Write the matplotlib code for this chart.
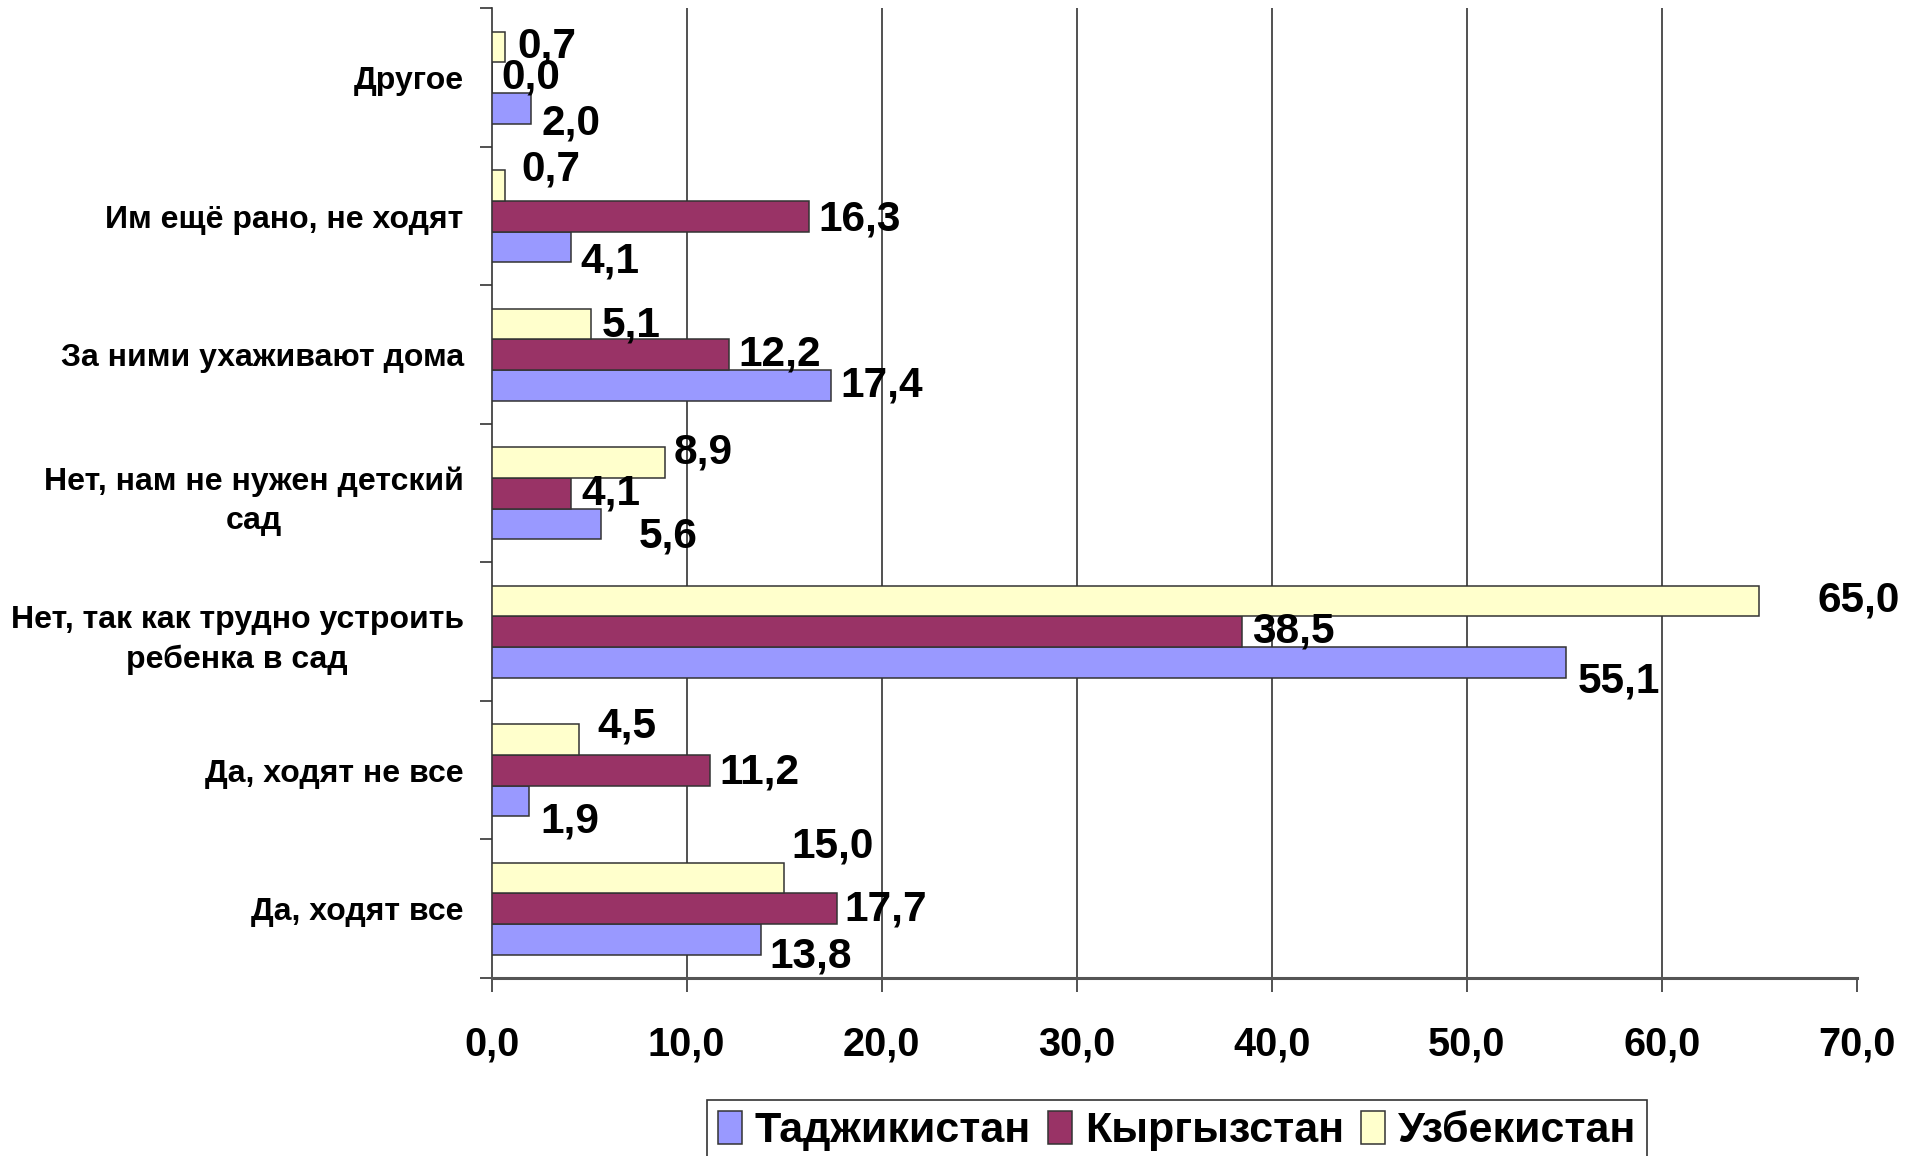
import matplotlib
matplotlib.use("Agg")
import matplotlib.pyplot as plt
import numpy as np

plt.rcParams['font.family'] = ['Liberation Sans', 'DejaVu Sans']
plt.rcParams['font.weight'] = 'bold'

# categories from bottom to top
categories = [
    "Да, ходят все",
    "Да, ходят не все",
    "Нет, так как трудно устроить\nребенка в сад",
    "Нет, нам не нужен детский\nсад",
    "За ними ухаживают дома",
    "Им ещё рано, не ходят",
    "Другое",
]
series_names = ["Таджикистан", "Кыргызстан", "Узбекистан"]
tajikistan = [13.8, 1.9, 55.1, 5.6, 17.4, 4.1, 2.0]
kyrgyzstan = [17.7, 11.2, 38.5, 4.1, 12.2, 16.3, 0.0]
uzbekistan = [15.0, 4.5, 65.0, 8.9, 5.1, 0.7, 0.7]
x_ticks = [0, 10, 20, 30, 40, 50, 60, 70]

colors = ["#9999FF", "#993366", "#FFFFCC"]

# label offsets (dx right, dy down) in reference pixels, per series per category
label_offsets = [
    [(7, 14), (10, 17), (9, 16), (31, 10), (8, 0), (7, 12), (9, 12)],
    [(6, 1), (8, 2), (8, 0), (8, 0), (7, 0), (7, 3), (8, 0)],
    [(6, -26), (15, -11), (48, 0), (7, -8), (9, 1), (13, -13), (10, 0)],
]
PX2PT = 0.8775


def fmt(v):
    return f"{v:.1f}".replace(".", ",")


fig = plt.figure(figsize=(19.11, 11.56), dpi=100)
ax = fig.add_axes([0.2572, 0.154, 0.7145, 0.8387])

y = np.arange(len(categories))
h = 0.222
data = [tajikistan, kyrgyzstan, uzbekistan]
shifts = [-h, 0, h]

for s, (vals, col, name, sh) in enumerate(zip(data, colors, series_names, shifts)):
    ax.barh(y + sh, vals, height=h, color=col, edgecolor="#333333",
            linewidth=1.1, label=name, zorder=3)
    for i, v in enumerate(vals):
        dx, dy = label_offsets[s][i]
        ax.annotate(fmt(v), (v, y[i] + sh), xytext=(dx * PX2PT, -dy * PX2PT),
                    textcoords="offset points", ha="left", va="center",
                    fontsize=30.5, fontweight="bold", zorder=5)

ax.set_xlim(0, 70)
ax.set_ylim(-0.5, len(categories) - 0.5)
ax.set_xticks(x_ticks)
ax.set_xticklabels([fmt(t) for t in x_ticks], fontsize=28.5, fontweight="bold")
ax.tick_params(axis="x", direction="out", length=14 * 0.72, width=1.2,
               color="#333333", pad=24)

ax.set_yticks(y)
ax.set_yticklabels(categories, fontsize=23, fontweight="bold",
                   multialignment="center", linespacing=1.4)
ax.set_yticks(np.arange(-0.5, len(categories), 1.0), minor=True)
ax.tick_params(axis="y", which="major", length=0, pad=20)
ax.tick_params(axis="y", which="minor", direction="out", length=9,
               width=1.2, color="#333333")

for gx in x_ticks[1:-1]:
    ax.axvline(gx, color="#333333", linewidth=1.2, zorder=1)

ax.spines["top"].set_visible(False)
ax.spines["right"].set_visible(False)
ax.spines["left"].set_color("#333333")
ax.spines["left"].set_linewidth(1.2)
ax.spines["bottom"].set_color("#555555")
ax.spines["bottom"].set_linewidth(2.2)

leg = fig.legend(loc="upper center", bbox_to_anchor=(0.616, 0.0484), ncol=3,
                 fontsize=31, frameon=True, fancybox=False, shadow=False,
                 handlelength=0.55, handleheight=0.8, handletextpad=0.3,
                 columnspacing=0.4, borderpad=0.25, borderaxespad=0)
leg.get_frame().set_edgecolor("black")
leg.get_frame().set_linewidth(1.2)
for t in leg.get_texts():
    t.set_fontweight("bold")

fig.savefig("out.png", dpi=100)
